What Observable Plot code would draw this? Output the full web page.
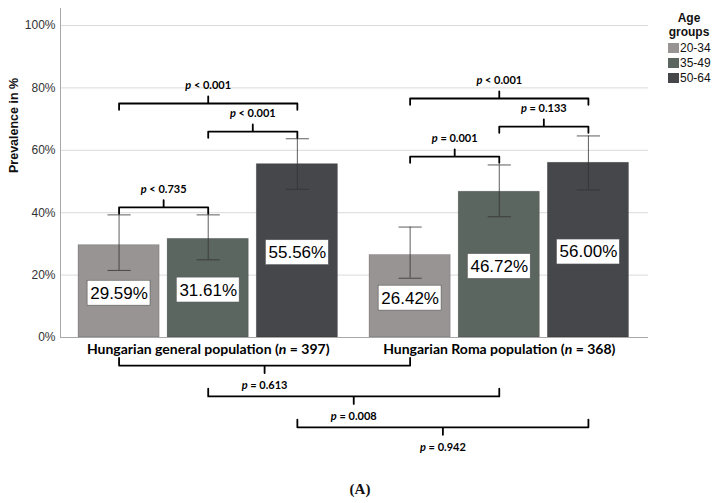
<!DOCTYPE html>
<html><head><meta charset="utf-8">
<script src="https://cdn.jsdelivr.net/npm/d3@7"></script>
<script src="https://cdn.jsdelivr.net/npm/@observablehq/plot@0.6"></script>
<style>
body{margin:0;background:#fff;}
#wrap{position:relative;width:720px;height:503px;overflow:hidden;}
#legend{position:absolute;left:668px;top:11px;font-family:"Liberation Sans",Arial,sans-serif;font-size:12px;color:#111;}
#legend .lt{width:42px;text-align:center;font-weight:bold;line-height:14px;margin-bottom:3px;}
#legend .row{height:15px;line-height:12px;white-space:nowrap;display:flex;align-items:flex-start;}
#legend .sw{display:inline-block;width:11px;height:10px;margin-right:1px;margin-top:1px;}
#caption{position:absolute;left:0;top:480px;width:720px;text-align:center;font-family:"Liberation Serif","DejaVu Serif",serif;font-weight:bold;font-size:15px;line-height:18px;color:#111;}
</style></head>
<body><div id="wrap"><div id="chart"></div><div id="legend"></div><div id="caption">(A)</div></div>
<script>
// ---- data ----
const groups = ["Hungarian general population", "Hungarian Roma population"];
const groupN = [397, 368];
const ages = ["20-34", "35-49", "50-64"];
const prevGeneral = [29.59, 31.61, 55.56];
const prevRoma = [26.42, 46.72, 56.00];
const ciLowGeneral = [21.5, 24.9, 47.5];
const ciHighGeneral = [39.3, 39.3, 63.7];
const ciLowRoma = [19.0, 38.7, 47.3];
const ciHighRoma = [35.4, 55.3, 64.6];
const colors = ["#989493", "#5c6660", "#45474a"];
// within-group comparisons: group index, from/to age index, bracket level (%)
const withinTests = [
  {group: 0, from: 0, to: 2, level: 75.0, p: "p < 0.001"},
  {group: 0, from: 1, to: 2, level: 66.0, p: "p < 0.001"},
  {group: 0, from: 0, to: 1, level: 41.7, p: "p < 0.735"},
  {group: 1, from: 0, to: 2, level: 76.6, p: "p < 0.001"},
  {group: 1, from: 1, to: 2, level: 67.6, p: "p = 0.133"},
  {group: 1, from: 0, to: 1, level: 58.0, p: "p = 0.001"}
];
// between-group comparisons (same age group)
const betweenTests = [
  {age: 0, level: -9.0, p: "p = 0.613"},
  {age: 1, level: -18.9, p: "p = 0.008"},
  {age: 2, level: -28.8, p: "p = 0.942"}
];

// ---- layout ----
const groupOffset = 3.265, barWidth = 0.91, capHalf = 0.13;
const xDomain = [-0.657, 5.939];
const yTop = 105.45;

const prev = [prevGeneral, prevRoma], lo = [ciLowGeneral, ciLowRoma], hi = [ciHighGeneral, ciHighRoma];
const table = groups.flatMap((g, gi) => ages.map((a, ai) => ({
  group: g, age: a, pos: gi * groupOffset + ai,
  value: prev[gi][ai], lo: lo[gi][ai], hi: hi[gi][ai]
})));

const brackets = [
  ...withinTests.map(t => ({x1: t.group * groupOffset + t.from, x2: t.group * groupOffset + t.to, level: t.level, dir: 1, p: t.p})),
  ...betweenTests.map(t => ({x1: t.age, x2: groupOffset + t.age, level: t.level, dir: -1, p: t.p}))
];
const bracketPts = brackets.flatMap((b, i) => {
  const m = (b.x1 + b.x2) / 2;
  const e = b.dir > 0 ? -2.0 : 2.5;
  const t = b.dir > 0 ? 2.3 : -2.4;
  return [[b.x1, b.level + e], [b.x1, b.level], [m, b.level], [m, b.level + t], [m, b.level], [b.x2, b.level], [b.x2, b.level + e]]
    .map(([x, y]) => ({id: i, x, y}));
});

const plot = Plot.plot({
  width: 720, height: 503,
  marginLeft: 60, marginRight: 72, marginTop: 8, marginBottom: 166,
  style: {fontFamily: "'Liberation Sans', Arial, sans-serif", fontSize: "12px", color: "#333", background: "#fff"},
  x: {type: "linear", domain: xDomain, axis: null},
  y: {domain: [0, yTop], axis: null},
  color: {domain: ages, range: colors},
  marks: [
    Plot.gridY({ticks: [20, 40, 60, 80, 100], stroke: "#dadada", strokeOpacity: 1}),
    Plot.axisY({ticks: [0, 20, 40, 60, 80, 100], tickFormat: d => d + "%", tickSize: 0, tickPadding: 5, label: null, fontSize: 12}),
    Plot.ruleX([xDomain[0]], {y1: 0, y2: yTop, stroke: "#a8a8a8"}),
    Plot.rect(table, {x1: d => d.pos - barWidth / 2, x2: d => d.pos + barWidth / 2, y1: 0, y2: "value", fill: "age", stroke: "#000", strokeOpacity: 0.22, strokeWidth: 0.8}),
    Plot.ruleY([0], {stroke: "#a8a8a8"}),
    Plot.ruleX(table, {x: "pos", y1: "lo", y2: "hi", stroke: "#333", strokeWidth: 0.8}),
    Plot.link(table, {x1: d => d.pos - capHalf, x2: d => d.pos + capHalf, y1: "hi", y2: "hi", stroke: "#333", strokeWidth: 0.8}),
    Plot.link(table, {x1: d => d.pos - capHalf, x2: d => d.pos + capHalf, y1: "lo", y2: "lo", stroke: "#333", strokeWidth: 0.8}),
    Plot.rect(table, {x1: d => d.pos - 0.353, x2: d => d.pos + 0.353, y1: d => d.value / 2 - 0.6 - 4, y2: d => d.value / 2 - 0.6 + 4, fill: "#fff", stroke: "#555", strokeWidth: 0.6}),
    Plot.text(table, {x: "pos", y: d => d.value / 2 - 0.6, text: d => d.value.toFixed(2) + "%", fontSize: 17, fontFamily: "'Liberation Sans', Arial, sans-serif", fill: "#000"}),
    Plot.line(bracketPts, {x: "x", y: "y", z: "id", stroke: "#000", strokeWidth: 1.8, strokeLinejoin: "round", strokeLinecap: "round", curve: "linear"}),
    Plot.text(brackets, {x: b => (b.x1 + b.x2) / 2, y: b => b.level + (b.dir > 0 ? 5.8 : -6.5), text: "p", fontFamily: "Lato, sans-serif", fontWeight: "bold", fontSize: 11, fill: "#000"}),
    Plot.text(groups, {x: (d, i) => i * groupOffset + 1, y: -3.7, text: (d, i) => `${d} (n = ${groupN[i]})`, fontFamily: "Lato, sans-serif", fontWeight: "bold", fontSize: 14, fill: "#000"}),
    Plot.text(["Prevalence in %"], {frameAnchor: "left", dx: -47, rotate: -90, fontFamily: "'Liberation Sans', Arial, sans-serif", fontWeight: "bold", fontSize: 12.5, fill: "#111"})
  ]
});

// italic p and n
d3.select(plot).selectAll("text").each(function () {
  const t = this.textContent;
  let parts = null, m;
  if ((m = t.match(/^p( [<=] .*)$/))) parts = [["p", true], [m[1], false]];
  else if ((m = t.match(/^(.*\()n( = \d+\))$/))) parts = [[m[1], false], ["n", true], [m[2], false]];
  if (!parts) return;
  this.textContent = "";
  for (const [s, it] of parts) {
    const ts = document.createElementNS("http://www.w3.org/2000/svg", "tspan");
    ts.textContent = s;
    if (it) ts.setAttribute("font-style", "italic");
    this.appendChild(ts);
  }
});
document.getElementById("chart").appendChild(plot);

// legend
const lg = d3.select("#legend");
lg.append("div").attr("class", "lt").html("Age<br>groups");
ages.forEach((a, i) => {
  const r = lg.append("div").attr("class", "row");
  r.append("span").attr("class", "sw").style("background", colors[i]);
  r.append("span").text(a);
});
</script>
</body></html>
